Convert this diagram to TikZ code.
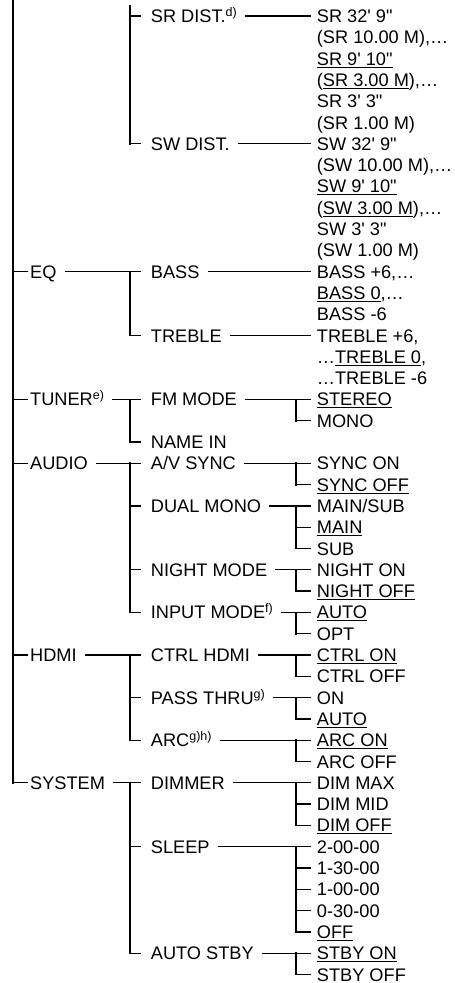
\documentclass[tikz,border=0pt]{standalone}
\usepackage{fontspec}
\setmainfont{Liberation Sans}
\newcommand\ulx[1]{\setbox0\hbox{#1}\rlap{\rule[-2.4pt]{\wd0}{1pt}}\box0}
\newcommand\sps[1]{\raisebox{6pt}{\fontsize{12.5}{12.5}\selectfont #1}}
\newcommand\qs{\textquotesingle}
\newcommand\qd{\textquotedbl}
\begin{document}
\begin{tikzpicture}[x=1pt,y=-1pt,
  lbl/.style={anchor=west,inner xsep=8pt,inner ysep=0pt,text height=13pt,text depth=0pt,font=\fontsize{18.2}{21.3}\selectfont},
  ln/.style={line width=1.3pt},
  vl/.style={line width=1.8pt,line cap=rect},
  mv/.style={line width=2pt,line cap=rect}]
\useasboundingbox (0,0) rectangle (455,983);
\coordinate (b1) at (13,0);
\coordinate (b2) at (130,6);
\coordinate (b3) at (296,0);
% level 1
\node[lbl] (EQ) at (22,271.6) {EQ};
\node[lbl] (TUN) at (22,399.4) {TUNER\sps{e)}};
\node[lbl] (AUD) at (22,463.3) {AUDIO};
\node[lbl] (HDMI) at (22,655) {HDMI};
\node[lbl] (SYS) at (22,782.8) {SYSTEM};
% level 2
\node[lbl] (SRD) at (142.7,16) {SR DIST.\sps{d)}};
\node[lbl] (SWD) at (142.7,143.8) {SW DIST.};
\node[lbl] (BASS) at (142.7,271.6) {BASS};
\node[lbl] (TRE) at (142.7,335.5) {TREBLE};
\node[lbl] (FM) at (142.7,399.4) {FM MODE};
\node[lbl] (NAME) at (142.7,442) {NAME IN};
\node[lbl] (AVS) at (142.7,463.3) {A/V SYNC};
\node[lbl] (DUAL) at (142.7,505.9) {DUAL MONO};
\node[lbl] (NIGHT) at (142.7,569.8) {NIGHT MODE};
\node[lbl] (INP) at (142.7,612.4) {INPUT MODE\sps{f)}};
\node[lbl] (CTRL) at (142.7,655) {CTRL HDMI};
\node[lbl] (PASS) at (142.7,697.6) {PASS THRU\sps{g)}};
\node[lbl] (ARC) at (142.7,740.2) {ARC\sps{g)h)}};
\node[lbl] (DIM) at (142.7,782.8) {DIMMER};
\node[lbl] (SLP) at (142.7,846.7) {SLEEP};
\node[lbl] (STBY) at (142.7,953.2) {AUTO STBY};
% level 3
\node[lbl] (r1) at (308.7,16) {SR 32\qs{} 9\qd};
\node[lbl] (r2) at (308.7,37.3) {(SR 10.00 M),…};
\node[lbl] (r3) at (308.7,58.6) {\ulx{SR 9\qs{} 10\qd}};
\node[lbl] (r4) at (308.7,79.9) {(\ulx{SR 3.00 M}),…};
\node[lbl] (r5) at (308.7,101.2) {SR 3\qs{} 3\qd};
\node[lbl] (r6) at (308.7,122.5) {(SR 1.00 M)};
\node[lbl] (r7) at (308.7,143.8) {SW 32\qs{} 9\qd};
\node[lbl] (r8) at (308.7,165.1) {(SW 10.00 M),…};
\node[lbl] (r9) at (308.7,186.4) {\ulx{SW 9\qs{} 10\qd}};
\node[lbl] (r10) at (308.7,207.7) {(\ulx{SW 3.00 M}),…};
\node[lbl] (r11) at (308.7,229) {SW 3\qs{} 3\qd};
\node[lbl] (r12) at (308.7,250.3) {(SW 1.00 M)};
\node[lbl] (r13) at (308.7,271.6) {BASS +6,…};
\node[lbl] (r14) at (308.7,292.9) {\ulx{BASS 0},…};
\node[lbl] (r15) at (308.7,314.2) {BASS -6};
\node[lbl] (r16) at (308.7,335.5) {TREBLE +6,};
\node[lbl] (r17) at (308.7,356.8) {…\ulx{TREBLE 0},};
\node[lbl] (r18) at (308.7,378.1) {…TREBLE -6};
\node[lbl] (r19) at (308.7,399.4) {\ulx{STEREO}};
\node[lbl] (r20) at (308.7,420.7) {MONO};
\node[lbl] (r22) at (308.7,463.3) {SYNC ON};
\node[lbl] (r23) at (308.7,484.6) {\ulx{SYNC OFF}};
\node[lbl] (r24) at (308.7,505.9) {MAIN/SUB};
\node[lbl] (r25) at (308.7,527.2) {\ulx{MAIN}};
\node[lbl] (r26) at (308.7,548.5) {SUB};
\node[lbl] (r27) at (308.7,569.8) {NIGHT ON};
\node[lbl] (r28) at (308.7,591.1) {\ulx{NIGHT OFF}};
\node[lbl] (r29) at (308.7,612.4) {\ulx{AUTO}};
\node[lbl] (r30) at (308.7,633.7) {OPT};
\node[lbl] (r31) at (308.7,655) {\ulx{CTRL ON}};
\node[lbl] (r32) at (308.7,676.3) {CTRL OFF};
\node[lbl] (r33) at (308.7,697.6) {ON};
\node[lbl] (r34) at (308.7,718.9) {\ulx{AUTO}};
\node[lbl] (r35) at (308.7,740.2) {\ulx{ARC ON}};
\node[lbl] (r36) at (308.7,761.5) {ARC OFF};
\node[lbl] (r37) at (308.7,782.8) {DIM MAX};
\node[lbl] (r38) at (308.7,804.1) {DIM MID};
\node[lbl] (r39) at (308.7,825.4) {\ulx{DIM OFF}};
\node[lbl] (r40) at (308.7,846.7) {2-00-00};
\node[lbl] (r41) at (308.7,868) {1-30-00};
\node[lbl] (r42) at (308.7,889.3) {1-00-00};
\node[lbl] (r43) at (308.7,910.6) {0-30-00};
\node[lbl] (r44) at (308.7,931.9) {\ulx{OFF}};
\node[lbl] (r45) at (308.7,953.2) {\ulx{STBY ON}};
\node[lbl] (r46) at (308.7,974.5) {STBY OFF};
% main trunk
\draw[mv] (b1) -- (b1 |- SYS.west);
\foreach \n in {EQ,TUN,AUD,HDMI,SYS}
  \draw[ln] (b1 |- \n.west) -- ([xshift=6pt]\n.west);
% level 1 -> level 2
\draw[vl] (b2) -- (b2 |- SWD.west);
\foreach \p/\a/\z in {EQ/BASS/TRE,TUN/FM/NAME,AUD/AVS/INP,HDMI/CTRL/ARC,SYS/DIM/STBY}{
  \draw[ln] (\p.east) -- ([xshift=-2pt]\a.west);
  \draw[vl] (b2 |- \a.west) -- (b2 |- \z.west);
}
\foreach \n in {SRD,SWD,TRE,NAME,DUAL,NIGHT,INP,PASS,ARC,SLP,STBY}
  \draw[ln] (b2 |- \n.west) -- ([xshift=-2pt]\n.west);
% level 2 -> level 3
\foreach \p/\a in {SRD/r1,SWD/r7,BASS/r13,TRE/r16}
  \draw[ln] (\p.east) -- ([xshift=2pt]\a.west);
\foreach \p/\a/\z in {FM/r19/r20,AVS/r22/r23,DUAL/r24/r26,NIGHT/r27/r28,INP/r29/r30,CTRL/r31/r32,PASS/r33/r34,ARC/r35/r36,DIM/r37/r39,SLP/r40/r44,STBY/r45/r46}{
  \draw[ln] (\p.east) -- ([xshift=2pt]\a.west);
  \draw[vl] (b3 |- \a.west) -- (b3 |- \z.west);
}
\foreach \n in {r20,r23,r25,r26,r28,r30,r32,r34,r36,r38,r39,r41,r42,r43,r44,r46}
  \draw[ln] (b3 |- \n.west) -- ([xshift=2pt]\n.west);
\end{tikzpicture}
\end{document}
